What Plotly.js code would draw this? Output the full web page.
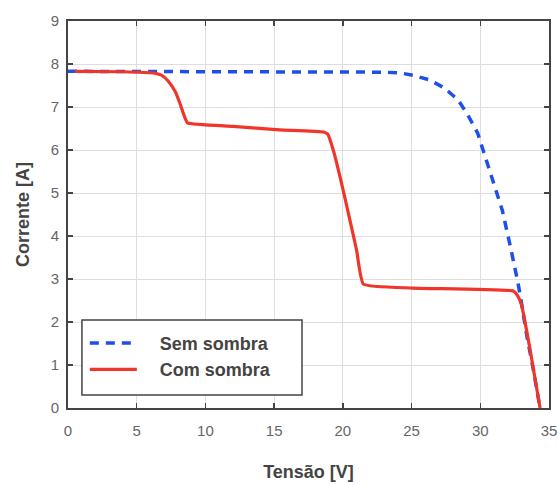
<!DOCTYPE html>
<html><head><meta charset="utf-8">
<script src="https://cdn.plot.ly/plotly-3.0.1.min.js"></script>
<style>body{margin:0;background:#fff}#c{width:558px;height:484px}</style>
</head><body><div id="c"></div>
<script>
const semV = [0, 5, 10, 15, 20, 23, 24.2, 25.1, 26.3, 27.4, 28.4, 29.1, 29.8, 30.2, 30.6, 31.1, 31.6, 32.2, 32.4, 32.75, 33.0, 33.4, 33.8, 34.1, 34.35];
const semI = [7.83, 7.83, 7.82, 7.82, 7.82, 7.81, 7.79, 7.74, 7.63, 7.44, 7.16, 6.81, 6.4, 6.0, 5.6, 5.14, 4.6, 3.74, 3.44, 2.9, 2.44, 1.65, 1.0, 0.45, 0];
const comV = [0.5, 4, 6.2, 6.8, 7.3, 7.8, 8.15, 8.45, 8.7, 12, 15.4, 18.6, 18.9, 19.3, 19.8, 20.4, 21.0, 21.5, 25.1, 32.4, 32.7, 33.0, 33.6, 34.35];
const comI = [7.83, 7.82, 7.79, 7.74, 7.6, 7.36, 7.08, 6.8, 6.63, 6.55, 6.47, 6.42, 6.37, 6.0, 5.37, 4.53, 3.67, 2.88, 2.79, 2.72, 2.62, 2.4, 1.4, 0];
const xTicks = [0, 5, 10, 15, 20, 25, 30, 35];
const yTicks = [0, 1, 2, 3, 4, 5, 6, 7, 8, 9];
const names = ['Sem sombra', 'Com sombra'];

const F = 'Liberation Sans, Arial, sans-serif';
const pad = '\u2002\u2002';
const traces = [
  {x: semV, y: semI, name: pad + names[0], legendgroup: 'a', mode: 'lines', line: {color: '#1f4fe8', width: 3.5, dash: '9px,7px'}},
  {x: comV, y: comI, name: pad + names[1], legendgroup: 'b', mode: 'lines', line: {color: '#f0352a', width: 3.2, shape: 'spline', smoothing: 0.4}}
];
const axisCommon = {
  showgrid: true, gridcolor: '#dedede', gridwidth: 1,
  showline: true, linecolor: '#444', linewidth: 2, mirror: 'ticks',
  ticks: 'inside', ticklen: 5, tickcolor: '#444', tickwidth: 1.5,
  zeroline: false,
  tickfont: {family: F, size: 15, color: '#666'}
};
const layout = {
  width: 558, height: 484,
  margin: {l: 68, r: 9, t: 21, b: 76},
  paper_bgcolor: '#fff', plot_bgcolor: '#fff',
  showlegend: true,
  legend: {x: 0.035, y: 0.215, xanchor: 'left', yanchor: 'top',
    bgcolor: 'rgba(0,0,0,0)', borderwidth: 0,
    font: {family: F, size: 18, color: '#444', weight: 'bold'},
    itemwidth: 47, tracegroupgap: 0, traceorder: 'grouped'},
  shapes: [{type: 'rect', xref: 'paper', yref: 'paper', x0: 0.029, x1: 0.4865, y0: 0.0336, y1: 0.2274,
    fillcolor: '#fff', line: {color: '#444', width: 1.5}, layer: 'above'}],
  xaxis: Object.assign({}, axisCommon, {range: [0, 35], tickvals: xTicks, ticktext: xTicks.map(String), ticklabelstandoff: 8,
    title: {text: 'Tensão [V]', standoff: 27, font: {family: F, size: 18, color: '#444', weight: 'bold'}}}),
  yaxis: Object.assign({}, axisCommon, {range: [0, 9], tickvals: yTicks, ticktext: yTicks.map(String), ticklabelstandoff: 4,
    title: {text: 'Corrente [A]', standoff: 16, font: {family: F, size: 18, color: '#444', weight: 'bold'}}})
};
Plotly.newPlot('c', traces, layout, {displayModeBar: false, staticPlot: true});
</script></body></html>
